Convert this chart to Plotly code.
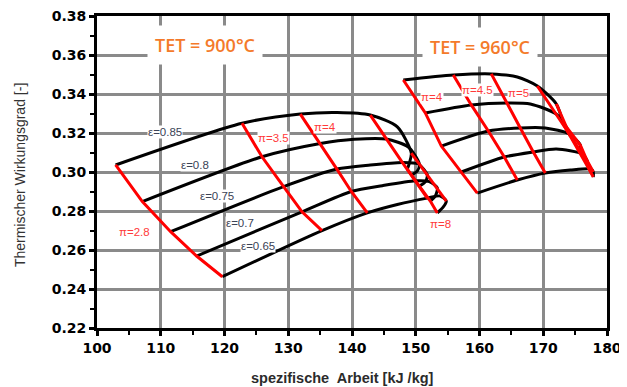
import plotly.graph_objects as go

# ---------------- TET = 900 °C carpet ----------------
pi_900 = [2.8, 3.5, 4, 4.5, 5, 5.5, 6, 7, 8]
red_pi_900 = [2.8, 3.5, 4, 5, 6, 8]
eps_900 = [0.85, 0.8, 0.75, 0.7, 0.65]

w900_085 = [102.92, 122.75, 131.89, 137.69, 142.87, 147.11, 149.30, 149.00, 148.68]
e900_085 = [0.3036, 0.3250, 0.3297, 0.3305, 0.3292, 0.3231, 0.3097, 0.3046, 0.3015]
w900_080 = [107.11, 125.88, 135.03, 140.36, 145.38, 148.83, 150.56, 150.24, 149.30]
e900_080 = [0.2848, 0.3078, 0.3146, 0.3168, 0.3169, 0.3128, 0.3041, 0.3005, 0.2985]
w900_075 = [111.55, 129.27, 137.63, 142.87, 147.89, 150.40, 151.81, 151.50, 150.56]
e900_075 = [0.2694, 0.2925, 0.3015, 0.3036, 0.3049, 0.3041, 0.2985, 0.2949, 0.2928]
w900_070 = [115.62, 132.16, 139.89, 144.75, 149.93, 152.13, 153.38, 153.07, 152.28]
e900_070 = [0.2569, 0.2796, 0.2900, 0.2930, 0.2955, 0.2951, 0.2918, 0.2877, 0.2851]
w900_065 = [119.66, 135.29, 142.40, 147.11, 151.81, 153.85, 154.79, 154.32, 153.38]
e900_065 = [0.2463, 0.2699, 0.2790, 0.2833, 0.2866, 0.2877, 0.2851, 0.2821, 0.2790]

# ---------------- TET = 960 °C carpet ----------------
pi_960 = [4, 4.5, 5, 5.5, 6, 7, 8]
red_pi_960 = [4, 4.5, 5, 6, 7, 8]
eps_960 = [0.85, 0.8, 0.75, 0.7, 0.65]

w960_085 = [148.05, 155.89, 161.85, 165.93, 169.07, 172.05, 173.15]
e960_085 = [0.3472, 0.3497, 0.3503, 0.3487, 0.3441, 0.3349, 0.3246]
w960_080 = [151.50, 158.71, 164.36, 167.97, 172.05, 173.62, 174.24]
e960_080 = [0.3303, 0.3344, 0.3354, 0.3349, 0.3297, 0.3231, 0.3185]
w960_075 = [154.01, 161.38, 166.40, 170.32, 174.09, 175.81, 175.81]
e960_075 = [0.3133, 0.3210, 0.3226, 0.3226, 0.3195, 0.3138, 0.3097]
w960_070 = [157.15, 163.89, 168.44, 172.05, 176.13, 176.91, 176.91]
e960_070 = [0.3000, 0.3077, 0.3103, 0.3118, 0.3092, 0.3056, 0.3031]
w960_065 = [159.65, 165.93, 170.32, 174.24, 177.54, 177.85, 177.85]
e960_065 = [0.2892, 0.2959, 0.2995, 0.3010, 0.3015, 0.3000, 0.2974]

# ---------------- labels ----------------
eps_labels = ["ε=0.85", "ε=0.8", "ε=0.75", "ε=0.7", "ε=0.65"]
eps_label_x = [110.6, 115.3, 118.9, 122.5, 125.3]
eps_label_y = [0.3205, 0.3036, 0.2877, 0.2738, 0.2620]

pi_labels = ["π=2.8", "π=3.5", "π=4", "π=8", "π=4", "π=4.5", "π=5"]
pi_label_x = [105.9, 127.7, 135.8, 153.9, 152.6, 159.7, 166.1]
pi_label_y = [0.2692, 0.3174, 0.3231, 0.2733, 0.3383, 0.3421, 0.3404]

tet_labels = ["TET = 900°C", "TET = 960°C"]
tet_x = [117.0, 160.1]
tet_y = [0.3651, 0.3641]

x_ticks = [100, 110, 120, 130, 140, 150, 160, 170, 180]
y_ticks = [0.22, 0.24, 0.26, 0.28, 0.30, 0.32, 0.34, 0.36, 0.38]

W900 = [w900_085, w900_080, w900_075, w900_070, w900_065]
E900 = [e900_085, e900_080, e900_075, e900_070, e900_065]
W960 = [w960_085, w960_080, w960_075, w960_070, w960_065]
E960 = [e960_085, e960_080, e960_075, e960_070, e960_065]

fig = go.Figure()

RED = "#ff0000"

def add_carpet(pis, red_pis, W, E):
    # constant-epsilon curves (black)
    for w, e in zip(W, E):
        fig.add_trace(go.Scatter(x=w, y=e, mode="lines",
                                 line=dict(color="black", width=3, shape="spline", smoothing=0.7),
                                 hoverinfo="skip", showlegend=False))
    # constant-pressure-ratio lines (red)
    for p in red_pis:
        i = pis.index(p)
        fig.add_trace(go.Scatter(x=[w[i] for w in W], y=[e[i] for e in E], mode="lines",
                                 line=dict(color=RED, width=3),
                                 hoverinfo="skip", showlegend=False))

add_carpet(pi_900, red_pi_900, W900, E900)
add_carpet(pi_960, red_pi_960, W960, E960)

# dashed reference line at 160 kJ/kg
fig.add_shape(type="line", x0=160, x1=160, y0=0.22, y1=0.38, xref="x", yref="y",
              line=dict(color="black", width=2, dash="dash"), layer="below")

for t, x, y in zip(eps_labels, eps_label_x, eps_label_y):
    fig.add_annotation(x=x, y=y, text=t, showarrow=False, bgcolor="white", borderpad=0,
                       font=dict(family="Liberation Sans", size=11.5, color="#3b4356"))
for t, x, y in zip(pi_labels, pi_label_x, pi_label_y):
    fig.add_annotation(x=x, y=y, text=t, showarrow=False, bgcolor="white", borderpad=0,
                       font=dict(family="Liberation Sans", size=11.5, color="#ff3a3a"))
for t, x, y in zip(tet_labels, tet_x, tet_y):
    fig.add_annotation(x=x, y=y, text=t, showarrow=False, bgcolor="white", borderpad=7,
                       font=dict(family="Open Sans", size=18, color="#f47a2a", weight=600))

# axis titles
fig.add_annotation(xref="paper", yref="paper", x=0.482, y=-0.160, xanchor="center", yanchor="middle",
                   text="spezifische  Arbeit [kJ /kg]", showarrow=False,
                   font=dict(family="Liberation Sans", size=14.5, color="#2b2b2b", weight="bold"))
fig.add_annotation(xref="paper", yref="paper", x=-0.151, y=0.49, xanchor="center", yanchor="middle",
                   text="Thermischer Wirkungsgrad [-]", textangle=-90, showarrow=False,
                   font=dict(family="Liberation Sans", size=14, color="#333333"))

axis_font = dict(family="DejaVu Sans", size=14, color="black", weight="bold")
common = dict(showgrid=True, gridcolor="#8a8a8a", gridwidth=2.5,
              showline=True, linecolor="black", linewidth=3, mirror=True,
              ticks="outside", ticklen=5, tickwidth=2.5, tickcolor="black",
              tickfont=axis_font, zeroline=False, fixedrange=True, automargin=False,
              ticklabeloverflow="allow")
fig.update_xaxes(range=[100, 180], tickvals=x_ticks, ticktext=[str(v) for v in x_ticks],
                 minor=dict(ticks="outside", ticklen=4, tickwidth=2, tickcolor="black", dtick=5, showgrid=False),
                 **common)
fig.update_yaxes(range=[0.22, 0.38], tickvals=y_ticks, ticktext=["%.2f" % v for v in y_ticks],
                 minor=dict(ticks="outside", ticklen=4, tickwidth=2, tickcolor="black", dtick=0.01, showgrid=False),
                 **common)

# the page adds an 8px body margin, so the figure is sized to fit inside the 627x387 window
fig.update_layout(width=619, height=379, margin=dict(l=89, r=20, t=8, b=59, autoexpand=False),
                  plot_bgcolor="white", paper_bgcolor="white", showlegend=False)

fig.write_html("out.html")
